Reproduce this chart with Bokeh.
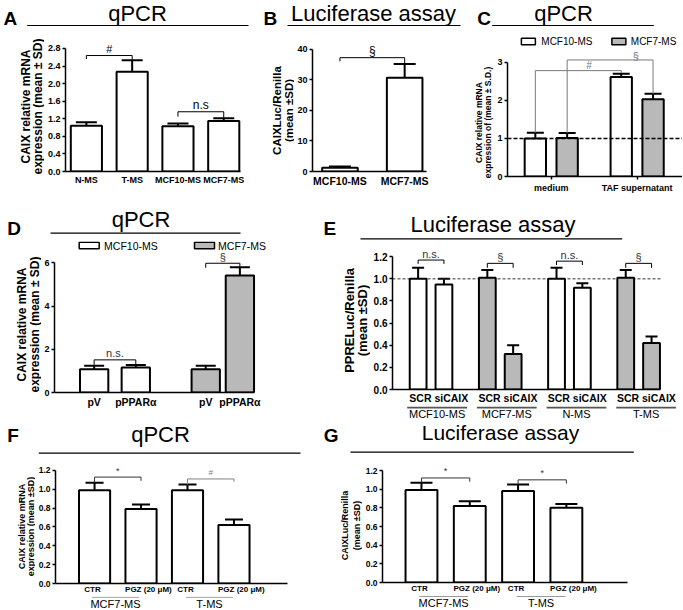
import math
from bokeh.plotting import figure
from bokeh.models import (Range1d, FixedTicker, Label, Whisker, TeeHead,
                          ColumnDataSource, PrintfTickFormatter, Span)
from bokeh.core.properties import value
from bokeh.layouts import column, row
from bokeh.embed import file_html
from bokeh.resources import INLINE

FONT = "Liberation Sans"
GREY = "#b9b9b9"

# ---------------- data ----------------
A_CATS = ["N-MS", "T-MS", "MCF10-MS", "MCF7-MS"]
A_MEAN = [1.04, 2.27, 1.03, 1.15]
A_SD = [0.08, 0.26, 0.06, 0.06]
A_YTICKS = [0, 0.4, 0.8, 1.2, 1.6, 2.0, 2.4, 2.8]
A_BRACKETS = [(0, 1, 2.64, 2.56, 2.53, "#"), (2, 3, 1.36, 1.25, 1.21, "n.s")]

B_CATS = ["MCF10-MS", "MCF7-MS"]
B_MEAN = [1.2, 30.7]
B_SD = [0.4, 4.5]
B_YTICKS = [0, 10, 20, 30, 40]
B_BRACKETS = [(0, 1, 37.3, 36.1, 35.2, "§")]

C_GROUPS = ["medium", "TAF supernatant"]
C_SERIES = ["MCF10-MS", "MCF7-MS"]
C_MCF10_MEAN = [1.00, 2.61]
C_MCF10_SD = [0.15, 0.09]
C_MCF7_MEAN = [1.01, 2.03]
C_MCF7_SD = [0.13, 0.14]
C_YTICKS = [0, 1, 2, 3]
C_BRACKETS = [(0, 2, 2.78, 1.15, 2.72, "#"), (1, 3, 3.06, 1.14, 2.17, "§")]

D_CATS = ["pV", "pPPARα", "pV", "pPPARα"]
D_SERIES = ["MCF10-MS", "MCF10-MS", "MCF7-MS", "MCF7-MS"]
D_MEAN = [1.07, 1.16, 1.07, 5.41]
D_SD = [0.17, 0.11, 0.17, 0.39]
D_YTICKS = [0, 2, 4, 6]
D_BRACKETS = [(0, 1, 1.51, 1.28, 1.28, "n.s."), (2, 3, 5.98, 5.77, 5.80, "§")]

E_GROUPS = ["MCF10-MS", "MCF7-MS", "N-MS", "T-MS"]
E_CONDS = ["SCR", "siCAIX"]
E_GROUP_IS_MCF7 = [False, True, False, True]
E_MEAN = [1.00, 0.95, 1.01, 0.32, 1.00, 0.92, 1.01, 0.42]
E_SD = [0.10, 0.05, 0.07, 0.08, 0.10, 0.04, 0.07, 0.06]
E_YTICKS = [0, 0.2, 0.4, 0.6, 0.8, 1.0, 1.2]
E_BRACKETS = [(0, 1, 1.17, 1.135, 1.135, "n.s."), (2, 3, 1.14, 1.10, 1.10, "§"),
              (4, 5, 1.16, 1.125, 1.125, "n.s."), (6, 7, 1.14, 1.10, 1.10, "§")]

F_GROUPS = ["MCF7-MS", "T-MS"]
F_CONDS = ["CTR", "PGZ (20 μM)"]
F_MEAN = [0.99, 0.79, 0.99, 0.62]
F_SD = [0.08, 0.05, 0.06, 0.06]
F_BRACKETS = [(0, 1, 1.13, 1.07, 1.09, "*"), (2, 3, 1.11, 1.05, 1.08, "#")]

G_GROUPS = ["MCF7-MS", "T-MS"]
G_CONDS = ["CTR", "PGZ (20 μM)"]
G_MEAN = [0.99, 0.82, 0.98, 0.80]
G_SD = [0.08, 0.05, 0.07, 0.04]
G_BRACKETS = [(0, 1, 1.12, 1.07, 1.08, "*"), (2, 3, 1.10, 1.05, 1.06, "*")]
FG_YTICKS = [0, 0.2, 0.4, 0.6, 0.8, 1.0, 1.2]


# ---------------- helpers ----------------
def sfig(wpx, hpx, rx0, rx1, ry0, ry1):
    """Plain strip figure whose data units are page pixels (y negated)."""
    p = figure(width=wpx, height=hpx, x_range=Range1d(rx0, rx1),
               y_range=Range1d(-ry1, -ry0), x_axis_location=None, y_axis_location=None,
               output_backend="svg", toolbar_location=None, min_border=0,
               min_border_left=0, min_border_right=0, min_border_top=0,
               min_border_bottom=0, frame_align=False)
    p.grid.visible = False
    p.outline_line_color = None
    p.background_fill_color = "white"
    p.border_fill_color = "white"
    return p


def stext(p, x, y, text, size, bold=False, align="center", baseline="middle",
          angle=0.0, color="black"):
    p.text(x=[x], y=[-y], text=[text], angle=angle, text_font=value(FONT),
           text_font_size=value(f"{size:.1f}px"),
           text_font_style="bold" if bold else "normal",
           text_align=align, text_baseline=baseline, text_color=color)


def sline(p, x0, y0, x1, y1, color="black", width=1.0):
    p.segment(x0=[x0], y0=[-y0], x1=[x1], y1=[-y1], line_color=color, line_width=width)


class Panel:
    def __init__(self, cx0, cy0, cx1, cy1, split_x, head_y, foot_y,
                 axis_px, px0, kx, zero_py, ky):
        W = round(cx1 - cx0)
        H = round(cy1 - cy0)
        hh = round(head_y - cy0)
        fh = round(cy1 - foot_y) if foot_y else 0
        bh = H - hh - fh
        lw = round(split_x - cx0)
        bw = W - lw
        bottom_ref = foot_y if foot_y else cy1
        self.head = sfig(W, hh, cx0, cx1, cy0, head_y)
        self.left = sfig(lw, bh, cx0, split_x, head_y, bottom_ref)
        self.foot = sfig(W, fh, cx0, cx1, foot_y, cy1) if foot_y else None
        p = figure(width=bw, height=bh,
                   x_range=Range1d((axis_px - px0) / kx, (cx1 - px0) / kx),
                   y_range=Range1d(0, (zero_py - head_y) / ky),
                   output_backend="svg", toolbar_location=None, frame_align=False,
                   min_border_left=round(axis_px - split_x), min_border_right=0,
                   min_border_top=0,
                   min_border_bottom=bh - round(zero_py - head_y))
        p.xgrid.visible = False
        p.ygrid.visible = False
        p.outline_line_color = None
        p.background_fill_color = "white"
        p.border_fill_color = "white"
        self.body = p
        self.X = lambda px: (px - px0) / kx
        self.Y = lambda py: (zero_py - py) / ky
        self.PX = lambda d: px0 + kx * d
        self.ky = ky
        self.kx = kx

    def layout(self):
        parts = [self.head, row(self.left, self.body)]
        if self.foot is not None:
            parts.append(self.foot)
        return column(*parts)


def label(p, x, y, text, size, bold=False, align="center", baseline="middle",
          color="black"):
    p.add_layout(Label(x=x, y=y, text=text, text_font=FONT,
                       text_font_size=f"{size:.1f}px",
                       text_font_style="bold" if bold else "normal",
                       text_align=align, text_baseline=baseline, text_color=color))


def heading(P, letter, lx, ly, title, tx, ty, ux0, ux1, uy, tsize=22):
    # ly / ty are the text baselines; drawn with a "middle" anchor
    stext(P.head, lx, ly - 0.35 * 19, letter, 19, bold=True, align="left")
    stext(P.head, tx, ty - 0.35 * tsize, title, tsize, align="center")
    sline(P.head, ux0, uy, ux1, uy, width=1.2)


def ylabel(P, lines, xs, cy, size):
    for t, x in zip(lines, xs):
        stext(P.left, x, cy, t, size, bold=True, angle=math.pi / 2)


def axes(p, yticks, yfmt, ytop, ysize, xend, xticks=(), xlabels=(), xsize=10,
         xtick_out=0, xstandoff=3, xbold=True):
    ya = p.yaxis[0]
    xa = p.xaxis[0]
    for ax in (ya, xa):
        ax.axis_line_width = 1.5
        ax.axis_line_color = "black"
        ax.major_tick_line_width = 1.5
        ax.minor_tick_line_color = None
        ax.major_tick_in = 0
        ax.major_label_text_font = FONT
        ax.major_label_text_font_style = "bold"
        ax.major_label_text_color = "black"
    ya.ticker = FixedTicker(ticks=list(yticks))
    ya.bounds = (0, ytop)
    ya.formatter = PrintfTickFormatter(format=yfmt)
    ya.major_tick_out = 3
    ya.major_label_text_font_size = f"{ysize:.1f}px"
    ya.major_label_standoff = 2
    xa.bounds = (p.x_range.start, xend)
    xa.ticker = FixedTicker(ticks=list(xticks))
    if xticks:
        xa.major_label_overrides = {t: l for t, l in zip(xticks, xlabels)}
    xa.major_label_text_font_size = f"{xsize:.1f}px"
    xa.major_label_text_font_style = "bold" if xbold else "normal"
    xa.major_tick_out = xtick_out
    if not xtick_out:
        xa.major_tick_line_color = None
    xa.major_label_standoff = xstandoff


def bars(p, xs, tops, sds, fills, width, cap_px, lw=2.0):
    src = ColumnDataSource(dict(x=list(xs), top=list(tops),
                                up=[t + s for t, s in zip(tops, sds)], fill=list(fills)))
    p.vbar(x="x", top="top", bottom=0, width=width, source=src, fill_color="fill",
           line_color="black", line_width=lw)
    p.add_layout(Whisker(source=src, base="x", lower="top", upper="up",
                         line_color="black", line_width=lw,
                         upper_head=TeeHead(size=cap_px, line_width=lw,
                                            line_color="black"),
                         lower_head=None))


def brackets(P, xs, specs, colors=None, sizes=None, text_pos=None, text_color="black"):
    p = P.body
    for k, (i, j, lvl, l_end, r_end, txt) in enumerate(specs):
        c = colors[k] if colors else "black"
        p.multi_line([[xs[i], xs[i], xs[j], xs[j]]], [[l_end, lvl, lvl, r_end]],
                     line_color=c, line_width=1)
        sz = sizes[k] if sizes else 11
        if text_pos:
            tx, ty = P.X(text_pos[k][0]), P.Y(text_pos[k][1])
        else:
            tx, ty = (xs[i] + xs[j]) / 2, lvl + 6.5 / P.ky
        label(p, tx, ty, txt, sz, color=c if colors else text_color)


# ---------------- Panel A ----------------
PA = Panel(0, 0, 258, 205, 44, 33, None, 62, 83.2, 46.5, 171, 43.93)
a_x = list(range(len(A_CATS)))
bars(PA.body, a_x, A_MEAN, A_SD, ["white"] * len(a_x), 0.68, 21)
brackets(PA, a_x, A_BRACKETS, sizes=[11, 12])
axes(PA.body, A_YTICKS, "%.1f", 2.8, 9, PA.X(240), a_x, A_CATS, xsize=9)
heading(PA, "A", 3, 25, "qPCR", 137, 21, 26.7, 248, 25)
ylabel(PA, ["CAIX relative mRNA", "expression (mean ± SD)"], [25, 37.5], 106, 12)

# ---------------- Panel B ----------------
PB = Panel(258, 0, 462, 205, 294, 33, None, 309, 337, 66, 171.3, 3.058)
b_x = list(range(len(B_CATS)))
bars(PB.body, b_x, B_MEAN, B_SD, ["white"] * len(b_x), 0.55, 22)
brackets(PB, b_x, B_BRACKETS, sizes=[12])
axes(PB.body, B_YTICKS, "%d", 40, 9, PB.X(425), b_x, B_CATS, xsize=10.5)
heading(PB, "B", 263, 25, "Luciferase assay", 373, 21, 287, 460, 25)
ylabel(PB, ["CAIXLuc/Renilla", "(mean ±SD)"], [276, 288], 110, 11.5)

# ---------------- Panel C ----------------
PC = Panel(462, 0, 682, 205, 494, 33, None, 506, 534, 32, 175.7, 38)
c_group_pos = [0, 2.7]
c_x, c_mean, c_sd, c_fill = [], [], [], []
for gi, gp in enumerate(c_group_pos):
    for si, (m, s, f) in enumerate([(C_MCF10_MEAN, C_MCF10_SD, "white"),
                                     (C_MCF7_MEAN, C_MCF7_SD, GREY)]):
        c_x.append(gp + si)
        c_mean.append(m[gi])
        c_sd.append(s[gi])
        c_fill.append(f)
PC.body.add_layout(Span(location=1, dimension="width", line_color="black",
                        line_dash="4 2", line_width=1.5))
bars(PC.body, c_x, c_mean, c_sd, c_fill, 0.67, 17)
brackets(PC, c_x, C_BRACKETS, colors=["#7a7a7a", "#7a7a7a"], sizes=[10, 11],
         text_pos=[(588, 65), (635, 55)])
c_ticks = [gp + 0.5 for gp in c_group_pos]
axes(PC.body, C_YTICKS, "%d", 3, 9, PC.body.x_range.end, c_ticks, C_GROUPS, xsize=9,
     xtick_out=3)
PC.body.rect(x=[PC.X(527), PC.X(618)], y=[PC.Y(41), PC.Y(41)], width=14,
             height=6.6, width_units="screen", height_units="screen",
             fill_color=["white", GREY], line_color="black", line_width=1.5)
label(PC.body, PC.X(540), PC.Y(41), C_SERIES[0], 10, align="left")
label(PC.body, PC.X(630), PC.Y(41), C_SERIES[1], 10, align="left")
heading(PC, "C", 476.7, 25, "qPCR", 563, 21, 491.7, 653.3, 25)
ylabel(PC, ["CAIX relative mRNA", "expression of (mean ± S.D.)"], [478.3, 487.5], 122, 8.5)

# ---------------- Panel D ----------------
PD = Panel(0, 205, 318, 420, 41, 241, None, 51.7, 91.7, 42, 391.7, 21.57)
d_x = [0, 1, 2.68, 3.5]
d_fill = ["white" if s == "MCF10-MS" else GREY for s in D_SERIES]
bars(PD.body, d_x, D_MEAN, D_SD, d_fill, 0.68, 20)
brackets(PD, d_x, D_BRACKETS, sizes=[11, 11], text_color="#333333")
axes(PD.body, D_YTICKS, "%d", 6, 9, PD.X(253.3), d_x, D_CATS, xsize=10.5)
PD.body.rect(x=[PD.X(86.7), PD.X(203)], y=[PD.Y(245), PD.Y(245)], width=20,
             height=6.7, width_units="screen", height_units="screen",
             fill_color=["white", GREY], line_color="black", line_width=1.5)
label(PD.body, PD.X(101.7), PD.Y(245), "MCF10-MS", 10.5, align="left")
label(PD.body, PD.X(216.7), PD.Y(245), "MCF7-MS", 10.5, align="left")
heading(PD, "D", 6.7, 235, "qPCR", 140.5, 227, 50, 240, 232.7)
ylabel(PD, ["CAIX relative mRNA", "expression (mean ± SD)"], [21, 34.5], 324, 12)

# ---------------- Panel E ----------------
PE = Panel(318, 205, 682, 420, 370, 241, 406, 390, 415.8, 26, 390.8, 112)
E_STEP = 2.68
e_x, e_fill = [], []
for gi, grey in enumerate(E_GROUP_IS_MCF7):
    for ci in range(len(E_CONDS)):
        e_x.append(round(gi * E_STEP + ci, 2))
        e_fill.append(GREY if grey else "white")
PE.body.segment(x0=[PE.body.x_range.start], y0=[1.0], x1=[PE.X(660)], y1=[1.0],
                line_color="#333333", line_dash="3 2", line_width=1)
bars(PE.body, e_x, E_MEAN, E_SD, e_fill, 0.65, 12)
brackets(PE, e_x, E_BRACKETS, sizes=[11, 11, 11, 11], text_color="#333333")
e_ticks = [round(gi * E_STEP + 0.8, 2) for gi in range(len(E_GROUPS))]
axes(PE.body, E_YTICKS, "%.1f", 1.2, 10, PE.X(660), e_ticks,
     [" ".join(E_CONDS)] * len(E_GROUPS), xsize=10.5, xstandoff=2)
for gi, g in enumerate(E_GROUPS):
    sline(PE.foot, PE.PX(gi * E_STEP - 0.35), 407, PE.PX(gi * E_STEP + 1.95), 407,
          color="#555555", width=2)
    stext(PE.foot, PE.PX(e_ticks[gi]), 413.5, g, 11)
heading(PE, "E", 323, 235, "Luciferase assay", 492.5, 232, 360, 621.7, 238.3)
ylabel(PE, ["PPRELuc/Renilla", "(mean ±SD)"], [348.5, 361.5], 320, 13)


# ---------------- Panels F, G ----------------
def fg_panel(canvas, split_x, head_y, foot_y, axis_px, px0, kx, zero_py, ky,
             groups, conds, means, sds, bracket_specs, bracket_colors, bracket_sizes,
             xend_px, cap, width, line_y, grp_y, head, ylab):
    P = Panel(*canvas, split_x, head_y, foot_y, axis_px, px0, kx, zero_py, ky)
    xs = list(range(len(means)))
    bars(P.body, xs, means, sds, ["white"] * len(xs), width, cap)
    brackets(P, xs, bracket_specs, colors=bracket_colors, sizes=bracket_sizes)
    ticks, labs = [], []
    pgz_half = 0.5 * 5.8 * 8 / kx
    for gi in range(len(groups)):
        i0 = gi * len(conds)
        ticks += [round(i0 - 2.0 / kx, 4), round(i0 + 1 - width / 2 + pgz_half, 4)]
        labs += list(conds)
    axes(P.body, FG_YTICKS, "%.1f", 1.2, 8.5, P.X(xend_px), ticks, labs, xsize=8,
         xstandoff=1)
    for gi, g in enumerate(groups):
        i0 = gi * len(conds)
        sline(P.foot, P.PX(i0), line_y, P.PX(i0 + 1), line_y, color="#9a9a9a", width=1)
        stext(P.foot, P.PX(i0 + 0.5), grp_y, g, 11)
    heading(P, *head)
    ylabel(P, *ylab)
    return P


PF = fg_panel((0, 420, 318, 609), 35, 456, 596, 52, 91.5, 47, 583.3, 94.4,
              F_GROUPS, F_CONDS, F_MEAN, F_SD, F_BRACKETS, ["#333333", "#808080"], [9, 8],
              286.7, 18, 0.67, 596.8, 603,
              ("F", 6.7, 441.7, "qPCR", 160, 442, 38.3, 300, 452.7),
              (["CAIX relative mRNA", "expression (mean ±SD)"], [21.5, 30.3], 526, 9))

PG = fg_panel((318, 420, 682, 609), 362, 455, 595, 379.5, 418.8, 48.7, 581.7, 93.1,
              G_GROUPS, G_CONDS, G_MEAN, G_SD, G_BRACKETS, ["#333333", "#333333"], [9, 9],
              626.7, 22, 0.66, 596, 602.5,
              ("G", 323.3, 441.7, "Luciferase assay", 500, 439.5, 350, 633.3, 451.7, 21),
              (["CAIXLuc/Renilla", "(mean ±SD)"], [344, 356], 525, 9))

layout = column(row(PA.layout(), PB.layout(), PC.layout()),
                row(PD.layout(), PE.layout()),
                row(PF.layout(), PG.layout()))
open("out.html", "w").write(file_html(layout, INLINE))
